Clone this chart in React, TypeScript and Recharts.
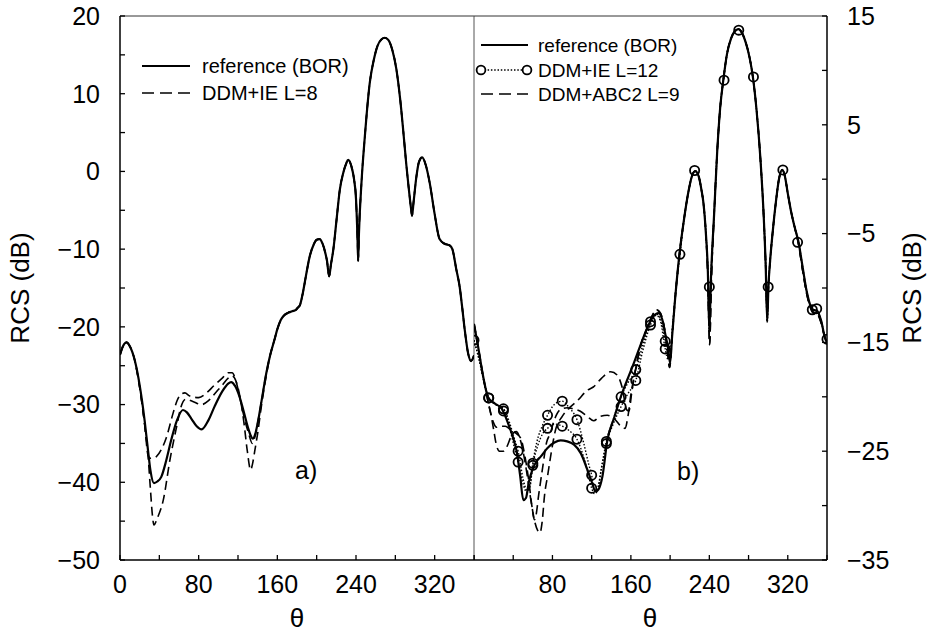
import React from 'react';
import { ComposedChart, Line, Scatter, XAxis, YAxis, ReferenceLine } from 'recharts';

type P = [number, number];

// ---------- panel a) ----------
const leftReference: P[] = [
  [0, -23.6], [3, -22.5], [6.5, -22.0], [10, -22.5], [15, -24.3], [20, -27.5], [25, -32], [28.5, -35.9],
  [31, -38.5], [34.5, -40.1], [38, -39.9], [42, -39.3], [47, -37.2], [52, -34.6], [58, -32], [64, -30.7],
  [68, -31.0], [72.5, -31.8], [78, -32.8], [83, -33.2], [90, -32], [96, -30.3], [104, -28.3], [110, -27.3],
  [113, -27.1], [117, -27.6], [121.6, -29.0], [126, -31], [130, -32.9], [133, -34], [135, -34.4], [137.5, -33.8],
  [140, -32.4], [144, -29.5], [148.7, -26], [153, -23.5], [157, -21.7], [160, -20.3], [163.6, -19.1], [167, -18.5],
  [170.7, -18.2], [175, -18.0], [179, -17.8], [181, -17.5], [183, -17.2], [186, -15.6], [189, -13.5], [193, -10.9],
  [197, -9.4], [200, -8.8], [203, -8.7], [206, -9.3], [209, -10.6], [210.5, -11.5], [212.7, -13.5], [214.5, -12.0],
  [217, -10.0], [220, -6.5], [223.6, -2.3], [227, -0.2], [230, 1.0], [232, 1.5], [235, 0.8], [238, -1.0],
  [240, -3.5], [241.5, -8.5], [242.2, -11.5], [243, -8.0], [245.6, -1.4], [249, 4.5], [254, 11.4], [258, 14.3],
  [262, 16.2], [266, 17.0], [269.3, 17.2], [273, 16.9], [277, 15.6], [281, 13.2], [285, 9.2], [288, 5.3],
  [291.3, 0.7], [294, -2.6], [296, -4.8], [297, -5.7], [298.5, -4.0], [301.5, -0.6], [304, 1.2], [307.3, 1.8],
  [311, 0.8], [315, -1.5], [320, -5.5], [325, -8.7], [330, -9.3], [335, -9.5], [338, -10.0], [342, -12.6],
  [345.5, -14.9], [348, -17.5], [350.6, -20.4], [354, -23.4], [357, -24.4], [360, -23.7],
];

const leftIeDeepMid: P[] = [
  [15, -24.3], [20, -27.8], [25, -32.5], [28.5, -36.5], [31, -41], [33, -44.3], [34.5, -45.5], [38, -44.6],
  [44, -42.3], [50.8, -37.1], [57.5, -32.9], [62, -30.3], [67, -29.3], [74, -29.6], [83, -30.0], [90, -29.5],
  [97, -28.5], [104, -27.5], [110, -26.6], [114, -26.3], [118, -27.0], [122, -29.0], [126, -32.3], [129.5, -36],
  [132.8, -38.4], [135, -37.5], [137, -36], [140, -33.7], [144, -30], [148.7, -26.3],
];

const leftIeShallowMid: P[] = [
  [15, -24.3], [20, -27.8], [25, -32.5], [28.5, -36.5], [31, -36.9], [34, -36.9], [37, -36.7], [42, -35.8],
  [47, -34.3], [54, -31.1], [58, -29.5], [62.7, -28.6], [66, -28.5], [71, -28.9], [80, -29.1], [88, -28.5],
  [96, -27.5], [104, -26.6], [110, -25.9], [114, -25.9], [118, -27.0], [122, -29.2], [127, -32], [131, -33.8],
  [134.5, -35], [137.5, -34], [140, -32.4], [144, -29.5], [148.7, -26],
];

// ---------- panel b) ----------
const rightReference: P[] = [
  [0, -13.3], [4, -15.3], [9.5, -18.2], [14.6, -20.1], [21, -20.6], [28.3, -21.1], [35, -22.5], [40, -23.8],
  [43.5, -25.0], [47, -27.2], [50.3, -29.5], [53, -29.3], [56, -27.8], [60, -26.6], [64, -25.9], [68, -25.5],
  [75, -24.7], [82, -24.2], [88.4, -24.0], [95, -24.1], [102, -24.4], [109, -25.2], [115.6, -26.7], [120, -27.8],
  [124, -28.7], [127, -28.5], [131, -27.3], [136, -24.0], [143, -21.9], [149.7, -20.0], [156, -18.5], [163, -16.9],
  [170, -15.2], [177, -13.6], [183, -12.6], [188, -12.3], [192, -12.9], [195, -14.2], [198, -15.6], [200, -16.9],
  [202, -14.5], [205, -11.1], [209.5, -6.9], [214, -3.8], [219, -1.0], [222, 0.2], [225.5, 0.75], [229, 0.3],
  [232, -1.0], [234, -2.2], [236.5, -5], [238.5, -8.5], [240, -14.0], [241.5, -9.5], [245, -3], [248, 2.5],
  [251, 6.5], [254.4, 9.2], [258, 11.5], [262, 12.9], [266, 13.6], [269.7, 13.8], [273, 13.5], [277, 12.6],
  [281, 11.2], [284.4, 9.4], [288, 6.5], [292, 2], [295.5, -3.5], [297.5, -8], [299, -13.1], [300.3, -9.8],
  [302, -7.5], [305, -4.5], [308, -2.0], [311, 0.0], [314.3, 0.85], [317, 0.3], [320, -1.3], [323, -2.8],
  [327, -4.4], [331, -5.8], [335, -8], [339.5, -10.4], [343, -11.6], [346, -12.0], [350, -12.1], [354, -13.0],
  [358, -14.6], [360, -15.0],
];

const rightIeLowA: P[] = [
  [0, -14.8], [5, -16.5], [10, -18.5], [15, -20.1], [22, -20.7], [30, -21.1], [36, -22.3], [41, -23.8],
  [45, -25.0], [50, -27.5], [54, -28.6], [57, -28.2], [60, -26.1], [64, -24.2], [70, -22.6], [75, -21.7],
  [82, -20.7], [90, -20.4], [97, -21.0], [105, -22.1], [112, -24.3], [117, -26.2], [120, -27.2], [123, -28.6],
  [126, -28.4], [130, -26.5], [135, -24.1], [142, -22.1], [150, -20.0], [157, -18.7], [165, -17.5], [172, -15.3],
  [180, -13.1], [186, -12.4], [190, -12.8], [195, -14.9], [198, -16.2], [200, -16.0], [203, -13], [206, -10.0],
  [210, -6.9],
];

const rightIeLowB: P[] = [
  [0, -14.8], [5, -16.5], [10, -18.5], [15, -20.1], [22, -20.7], [30, -21.1], [36, -22.7], [41, -24.6],
  [45, -26.0], [50, -28.0], [54, -28.8], [57, -28.3], [60, -26.3], [65, -24.5], [70, -23.4], [75, -22.9],
  [82, -22.5], [90, -22.7], [97, -23.1], [105, -23.9], [112, -25.6], [117, -27.3], [120, -28.4], [123, -28.9],
  [126, -28.6], [130, -26.6], [135, -24.3], [142, -22.5], [150, -20.9], [157, -19.7], [165, -18.5], [172, -15.8],
  [180, -13.4], [186, -12.5], [190, -13.0], [195, -15.6], [198, -16.6], [200, -16.2], [203, -13], [206, -10.0],
  [210, -6.9],
];

const rightIeCirclesA: P[] = [
  [0, -14.8], [15, -20.1], [30, -21.1], [45, -25.0], [60, -26.1], [75, -21.7], [90, -20.4], [105, -22.1],
  [120, -27.2], [135, -24.1], [150, -20.0], [165, -17.5], [180, -13.1], [195, -14.9], [210, -6.9], [225, 0.8],
  [240, -9.9], [255, 9.1], [270, 13.7], [285, 9.4], [300, -9.9], [315, 0.85], [330, -5.8], [345, -12.0],
  [360, -14.7],
];

const rightIeCirclesB: P[] = [
  [15, -20.1], [30, -21.3], [45, -26.0], [60, -26.3], [75, -22.9], [90, -22.7], [105, -23.9], [120, -28.4],
  [135, -24.3], [150, -20.9], [165, -18.5], [180, -13.4], [195, -15.6], [349.5, -11.9],
];

const rightAbcDeepLow: P[] = [
  [0, -13.3], [4, -15.3], [9.5, -18.2], [14, -20.3], [17, -21.5], [20, -23], [23, -24.5], [26, -25.0],
  [30, -25.0], [34, -24.5], [38, -23.6], [43, -23.2], [48, -24.2], [53, -26.5], [58, -29.5], [62, -31.5],
  [65, -32.3], [67.3, -32.5], [69.5, -31.5], [72, -29], [75, -27.3], [79, -25], [83, -23.1], [90, -21.8],
  [98.6, -20.9], [105, -20.4], [115.6, -19.4], [121.7, -19.1], [130, -18.3], [139.4, -17.7], [146, -18.0],
  [151, -19.1], [155.8, -21.2], [158, -21.3], [161, -19.5],
];

const rightAbcShallowLow: P[] = [
  [0, -13.3], [4, -15.3], [9.5, -18.2], [14, -20.3], [17, -21.5], [20, -22.4], [23, -22.8], [27, -22.7],
  [32, -22.7], [37, -23.0], [42, -23.3], [47.6, -23.8], [52, -25.5], [56, -27.8], [59, -30], [61.5, -31.3],
  [63, -31.0], [66, -29], [70, -26.5], [74, -24.2], [77.6, -23.4], [82, -22.1], [87.8, -21.2], [95, -21.0],
  [101, -21.1], [108, -21.3], [115.6, -21.8], [122, -22.2], [128.6, -21.8], [136, -21.7], [143, -22.0],
  [149.7, -22.7], [154, -22.9], [157, -21.8], [160, -19.8],
];

const rightAbcUpper: P[] = [
  [165, -17.4], [170, -15.3], [177, -13.6], [181, -12.7], [186, -12.0], [190, -12.3], [194, -13.6], [197, -15.5],
  [199.5, -17.3], [202, -14.5], [205, -11.1], [209.5, -6.9], [214, -3.8], [219, -1.0], [222, 0.2], [225.5, 0.75],
  [229, 0.3], [232, -1.0], [234, -2.2], [236.5, -5], [238.5, -9], [240.3, -15.2], [242, -9.5], [245, -3],
  [248, 2.5], [251, 6.5], [254.4, 9.2], [258, 11.5], [262, 12.9], [266, 13.6], [269.7, 13.8], [273, 13.5],
  [277, 12.6], [281, 11.2], [284.4, 9.4], [288, 6.5], [292, 2], [295.5, -3.5], [297.5, -8], [299, -12.5],
  [300.3, -9.8], [302, -7.5], [305, -4.5], [308, -2.0], [311, 0.0], [314.3, 0.85], [317, 0.3], [320, -1.3],
  [323, -2.8], [327, -4.4], [331, -6.0], [335, -8.3], [339.5, -10.6], [343, -11.8], [346, -12.3], [350, -12.4],
  [354, -13.2], [358, -14.6], [360, -15.0],
];

// ---------- axis ticks ----------
const xTicks = [0, 40, 80, 120, 160, 200, 240, 280, 320, 360];
const xLabelsLeft = [0, 80, 160, 240, 320];
const xLabelsRight = [80, 160, 240, 320];
const leftYTicks = [-50, -45, -40, -35, -30, -25, -20, -15, -10, -5, 0, 5, 10, 15, 20];
const leftYLabels = [-50, -40, -30, -20, -10, 0, 10, 20];
const rightYTicks = [-35, -30, -25, -20, -15, -10, -5, 0, 5, 10, 15];
const rightYLabels = [-35, -25, -15, -5, 5, 15];

const F = '"Liberation Sans", Arial, Helvetica, sans-serif';

const pts = (a: P[]) => a.map(([t, v]) => ({ t, v }));
const fmt = (labels: number[]) => (v: number) =>
  labels.includes(v) ? (v < 0 ? '\u2212' + Math.abs(v) : String(v)) : '';

const leftSolid = pts(leftReference);
const leftDeep = pts([
  ...leftReference.filter((p) => p[0] < 15),
  ...leftIeDeepMid,
  ...leftReference.filter((p) => p[0] > 150),
]);
const leftShallow = pts([
  ...leftReference.filter((p) => p[0] < 15),
  ...leftIeShallowMid,
  ...leftReference.filter((p) => p[0] > 150),
]);

const rightSolid = pts(rightReference);
const rightIeA = pts([...rightIeLowA, ...rightReference.filter((p) => p[0] > 210)]);
const rightIeB = pts([...rightIeLowB, ...rightReference.filter((p) => p[0] > 210)]);
const circlesA = pts(rightIeCirclesA);
const circlesB = pts(rightIeCirclesB);
const abcDeep = pts([...rightAbcDeepLow, ...rightAbcUpper]);
const abcShallow = pts([...rightAbcShallowLow, ...rightAbcUpper]);

const tickStyle = { fill: '#000', fontSize: 25, fontFamily: F };
const axisLine = { stroke: '#000', strokeWidth: 1.5 };
const tickLine = { stroke: '#000', strokeWidth: 1.3 };

const Ring = (props: any) => (
  <circle cx={props.cx} cy={props.cy} r={4.6} fill="none" stroke="#000" strokeWidth={1.8} />
);

export default function App() {
  return (
    <div style={{ position: 'absolute', left: 0, top: 0, width: 933, height: 633, background: '#fff' }}>
      <div style={{ position: 'absolute', left: 0, top: 0 }}>
        <ComposedChart width={480} height={633} margin={{ top: 16, right: 6, left: 0, bottom: 13 }}>
          <XAxis
            type="number"
            dataKey="t"
            domain={[0, 360]}
            ticks={xTicks}
            tickFormatter={fmt(xLabelsLeft)}
            allowDataOverflow
            height={60}
            tickSize={-5}
            tickMargin={20}
            tick={tickStyle}
            axisLine={axisLine}
            tickLine={tickLine}
            interval={0}
          />
          <YAxis
            type="number"
            domain={[-50, 20]}
            ticks={leftYTicks}
            tickFormatter={fmt(leftYLabels)}
            allowDataOverflow
            width={120}
            tickSize={-5}
            tickMargin={25}
            tick={tickStyle}
            axisLine={axisLine}
            tickLine={tickLine}
            interval={0}
          />
          <ReferenceLine y={20} stroke="#333" strokeWidth={1} />
          <ReferenceLine x={360} stroke="#555" strokeWidth={1} />
          <Line data={leftDeep} dataKey="v" stroke="#000" strokeWidth={1.6} strokeDasharray="9 5" dot={false} isAnimationActive={false} type="monotone" />
          <Line data={leftShallow} dataKey="v" stroke="#000" strokeWidth={1.6} strokeDasharray="9 5" dot={false} isAnimationActive={false} type="monotone" />
          <Line data={leftSolid} dataKey="v" stroke="#000" strokeWidth={2.2} dot={false} isAnimationActive={false} type="monotone" />
        </ComposedChart>
      </div>
      <div style={{ position: 'absolute', left: 474, top: 0 }}>
        <ComposedChart width={459} height={633} margin={{ top: 16, right: 0, left: 0, bottom: 13 }}>
          <XAxis
            type="number"
            dataKey="t"
            domain={[0, 360]}
            ticks={xTicks}
            tickFormatter={fmt(xLabelsRight)}
            allowDataOverflow
            height={60}
            tickSize={-5}
            tickMargin={20}
            tick={tickStyle}
            axisLine={axisLine}
            tickLine={tickLine}
            interval={0}
          />
          <YAxis
            type="number"
            orientation="right"
            domain={[-35, 15]}
            ticks={rightYTicks}
            tickFormatter={fmt(rightYLabels)}
            allowDataOverflow
            width={106}
            tickSize={-5}
            tickMargin={25}
            tick={tickStyle}
            axisLine={axisLine}
            tickLine={tickLine}
            interval={0}
          />
          <ReferenceLine y={15} stroke="#333" strokeWidth={1} />
          <Line data={abcDeep} dataKey="v" stroke="#000" strokeWidth={1.6} strokeDasharray="9 5" dot={false} isAnimationActive={false} type="monotone" />
          <Line data={abcShallow} dataKey="v" stroke="#000" strokeWidth={1.6} strokeDasharray="9 5" dot={false} isAnimationActive={false} type="monotone" />
          <Line data={rightIeA} dataKey="v" stroke="#000" strokeWidth={1.4} strokeDasharray="1.5 1.8" dot={false} isAnimationActive={false} type="monotone" />
          <Line data={rightIeB} dataKey="v" stroke="#000" strokeWidth={1.4} strokeDasharray="1.5 1.8" dot={false} isAnimationActive={false} type="monotone" />
          <Line data={rightSolid} dataKey="v" stroke="#000" strokeWidth={2.2} dot={false} isAnimationActive={false} type="monotone" />
          <Scatter data={circlesA} dataKey="v" shape={Ring} isAnimationActive={false} />
          <Scatter data={circlesB} dataKey="v" shape={Ring} isAnimationActive={false} />
        </ComposedChart>
      </div>
      <svg
        width={933}
        height={633}
        style={{ position: 'absolute', left: 0, top: 0, pointerEvents: 'none' }}
        fontFamily={F}
      >
        <text x={20} y={288} transform="rotate(-90 20 288)" textAnchor="middle" dominantBaseline="central" fontSize={26}>
          RCS (dB)
        </text>
        <text x={912} y={288} transform="rotate(-90 912 288)" textAnchor="middle" dominantBaseline="central" fontSize={26}>
          RCS (dB)
        </text>
        <text x={297} y={627} textAnchor="middle" fontSize={26}>θ</text>
        <text x={650} y={627} textAnchor="middle" fontSize={26}>θ</text>
        <text x={295} y={479} fontSize={25}>a)</text>
        <text x={677} y={480} fontSize={25}>b)</text>

        {/* legend a */}
        <line x1={142} y1={66} x2={190} y2={66} stroke="#000" strokeWidth={2} />
        <text x={202} y={73} fontSize={20}>reference (BOR)</text>
        <line x1={142} y1={93} x2={190} y2={93} stroke="#000" strokeWidth={1.6} strokeDasharray="12 6" />
        <text x={202} y={100} fontSize={20}>DDM+IE L=8</text>

        {/* legend b */}
        <line x1={481} y1={45} x2={528} y2={45} stroke="#000" strokeWidth={2} />
        <text x={538} y={52} fontSize={19}>reference (BOR)</text>
        <line x1={481} y1={70} x2={527} y2={70} stroke="#000" strokeWidth={1.4} strokeDasharray="1.5 1.8" />
        <circle cx={481} cy={70} r={4.4} fill="#fff" stroke="#000" strokeWidth={1.8} />
        <circle cx={527} cy={70} r={4.4} fill="#fff" stroke="#000" strokeWidth={1.8} />
        <text x={538} y={77} fontSize={19}>DDM+IE L=12</text>
        <line x1={481} y1={94} x2={528} y2={94} stroke="#000" strokeWidth={1.6} strokeDasharray="12 6" />
        <text x={538} y={101} fontSize={19}>DDM+ABC2 L=9</text>
      </svg>
    </div>
  );
}
